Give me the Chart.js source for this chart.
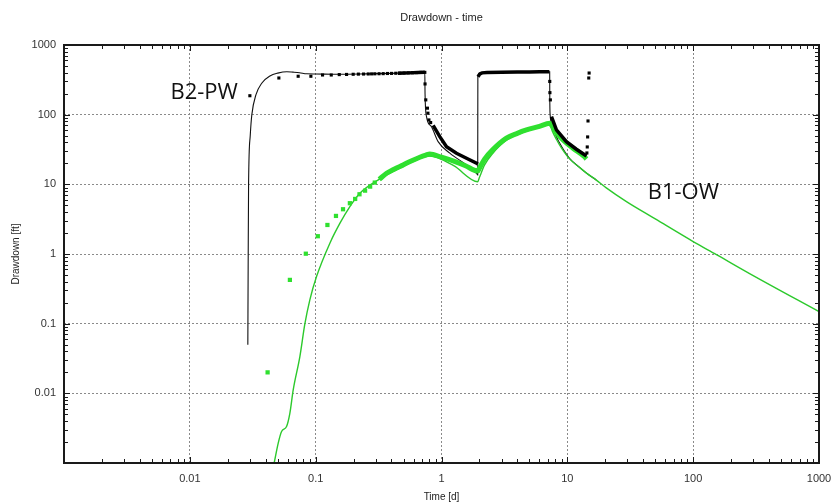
<!DOCTYPE html>
<html>
<head>
<meta charset="utf-8">
<title>Drawdown - time</title>
<script src="https://cdn.jsdelivr.net/npm/chart.js@4.4.1/dist/chart.umd.min.js"></script>
<style>
  html, body { margin: 0; padding: 0; background: #fff; }
</style>
</head>
<body>
<canvas id="drawdownChart" width="834" height="504"></canvas>
<script>
// Axis decades and their labels (the lowest one is left blank)
const decades = [0.001, 0.01, 0.1, 1, 10, 100, 1000];
const xTickLabels = ['', '0.01', '0.1', '1', '10', '100', '1000'];
const yTickLabels = ['', '0.01', '0.1', '1', '10', '100', '1000'];

// B2-PW (pumping well) - model curve
const pwModelTime = [0.0289, 0.0291, 0.0293, 0.0302, 0.0311, 0.0335, 0.0374, 0.0433, 0.050, 0.059, 0.066, 0.0744, 0.085, 0.1, 0.15, 0.25, 0.4, 0.6, 0.737,
  0.740, 0.76, 0.833, 0.94, 1.164, 1.58, 1.9, 1.94, 1.945, 2.0, 2.2, 3, 5, 7.24,
  7.25, 7.3, 7.6, 8.2, 9, 10.45, 12.5, 14.2, 17];
const pwModelDrawdown = [0.05, 1, 10, 50, 100, 192, 285, 359, 395, 414, 408, 400, 386, 384, 380, 385, 392, 402, 410,
  200, 94, 67, 41, 28, 19, 14.4, 13.6, 359, 392, 402, 408, 412, 414,
  200, 100, 70, 48, 35, 23.5, 17.5, 14.5, 11.5];

// B2-PW observed - individual readings
const pwObsTime = [0.030, 0.051, 0.0726, 0.0916, 0.1134, 0.133, 0.154, 0.176, 0.1987, 0.2185, 0.2403, 0.2617, 0.2785, 0.2953,
  0.319, 0.344, 0.372, 0.401, 0.433, 0.467, 0.504, 0.544, 0.587, 0.634, 0.684, 0.737,
  0.740, 0.75, 0.773, 0.78, 0.794, 0.82,
  7.25, 7.27, 7.33,
  14.3, 14.4, 14.5, 14.6, 14.8, 14.9];
const pwObsDrawdown = [187, 336, 356, 356, 371, 371, 376, 378, 380, 382, 383, 384, 385, 386,
  387, 388, 390, 391, 393, 394, 396, 398, 400, 402, 404, 405,
  276, 163, 124, 105, 84, 77,
  300, 207, 163,
  28.2, 34.4, 47.9, 81.2, 336, 396];

// B2-PW observed - continuous logger record
const pwLogTime = [0.45, 0.55, 0.65, 0.737, null, 0.858, 0.969, 1.096, 1.315, 1.58, 1.9, 1.94, null,
  1.95, 2.02, 2.1, 2.3, 3, 4, 5, 6, 7.2, null,
  7.48, 8.19, 9.83, 11.8, 14.2];
const pwLogDrawdown = [393, 398, 402, 405, null, 70, 48.3, 34.7, 27.9, 23.7, 20.1, 19.5, null,
  350, 385, 398, 402, 405, 408, 410, 412, 414, null,
  93.6, 60.3, 41, 31.9, 25.5];

// B1-OW (observation well) - model curve
const owModelTime = [0.0468, 0.0504, 0.0536, 0.0587, 0.0624, 0.0663, 0.0749, 0.082, 0.0899, 0.1016, 0.1297, 0.156, 0.187, 0.2245,
  0.324, 0.495, 0.672, 0.807, 1.25, 1.94, 2.0, 2.2, 2.56, 3.28, 4.73, 6.0, 7.24,
  7.6, 8.2, 9.0, 10.45, 12.5, 14.2, 17, 20.4, 29.5, 50, 100, 153, 300, 1000];
const owModelDrawdown = [0.001, 0.00193, 0.00283, 0.00334, 0.0052, 0.0112, 0.0337, 0.0984, 0.22, 0.474, 1.43, 2.77, 4.79, 7.45,
  12.0, 18.0, 23.5, 25.5, 18.5, 10.9, 12.5, 19, 28, 43, 58, 66, 73,
  58, 44, 33, 23, 17.5, 14.5, 11.5, 8.9, 5.65, 3.19, 1.51, 0.98, 0.49, 0.149];

// B1-OW observed - individual readings
const owObsTime = [0.0415, 0.0624, 0.0835, 0.104, 0.124, 0.145, 0.165, 0.187, 0.206, 0.223, 0.247, 0.271, 0.295];
const owObsDrawdown = [0.020, 0.425, 1.01, 1.8, 2.61, 3.52, 4.39, 5.36, 6.17, 7.2, 8.12, 9.27, 10.6];

// B1-OW observed - continuous logger record
const owLogTime = [0.32, 0.366, 0.42, 0.495, 0.58, 0.672, 0.75, 0.807, 1.0, 1.25, 1.55, 1.94, 2.0, 2.2, 2.56, 3.28, 4.0, 4.73, 6.0, 7.24,
  7.48, 8.2, 9.25, 11.1, 13.7, 14.2];
const owLogDrawdown = [11.8, 14.4, 16.5, 19.0, 21.8, 24.5, 26.3, 27.3, 24.5, 21.5, 18.5, 15.5, 17, 23, 31.5, 46, 54, 60.3, 68, 75,
  71, 55, 43.3, 33, 24.9, 23.1];

const toPoints = (ts, vs) => ts.map((t, i) => (t === null ? { x: null, y: null } : { x: t, y: vs[i] }));

const GREEN = '#2fe02f';
const GREEN_LINE = '#2cc92c';

// frame, inward minor ticks, title and well labels
const decorations = {
  id: 'decorations',
  afterDraw(chart) {
    const { ctx, chartArea: a, scales: { x, y } } = chart;
    ctx.save();
    ctx.strokeStyle = '#1a1a1a';
    ctx.lineWidth = 1;
    ctx.beginPath();
    decades.slice(0, -1).forEach(d => {
      for (let m = 2; m <= 9; m++) {
        const px = Math.round(x.getPixelForValue(d * m)) + 0.5;
        ctx.moveTo(px, a.bottom); ctx.lineTo(px, a.bottom - 4);
        ctx.moveTo(px, a.top); ctx.lineTo(px, a.top + 4);
        const py = Math.round(y.getPixelForValue(d * m)) + 0.5;
        ctx.moveTo(a.left, py); ctx.lineTo(a.left + 4, py);
        ctx.moveTo(a.right, py); ctx.lineTo(a.right - 4, py);
      }
    });
    decades.forEach(d => {
      const px = Math.round(x.getPixelForValue(d)) + 0.5;
      ctx.moveTo(px, a.bottom); ctx.lineTo(px, a.bottom - 6);
      ctx.moveTo(px, a.top); ctx.lineTo(px, a.top + 6);
      const py = Math.round(y.getPixelForValue(d)) + 0.5;
      ctx.moveTo(a.left, py); ctx.lineTo(a.left + 6, py);
      ctx.moveTo(a.right, py); ctx.lineTo(a.right - 6, py);
    });
    ctx.stroke();
    ctx.lineWidth = 2;
    ctx.strokeRect(a.left, a.top, a.right - a.left, a.bottom - a.top);

    ctx.fillStyle = '#222';
    ctx.font = '11px "Liberation Sans", Arial, sans-serif';
    ctx.textAlign = 'center';
    ctx.textBaseline = 'middle';
    ctx.fillText('Drawdown - time', (a.left + a.right) / 2, 18);

    ctx.fillStyle = '#111';
    ctx.font = '22px "Open Sans", sans-serif';
    ctx.textAlign = 'right';
    ctx.fillText('B2-PW', x.getPixelForValue(0.0241), y.getPixelForValue(205));
    ctx.textAlign = 'left';
    ctx.fillText('B1-OW', x.getPixelForValue(43.5), y.getPixelForValue(7.5));
    ctx.restore();
  }
};

const axisFont = { family: '"Liberation Sans", Arial, sans-serif', size: 11 };

new Chart(document.getElementById('drawdownChart'), {
  type: 'scatter',
  data: {
    datasets: [
      { label: 'B2-PW observed', data: toPoints(pwObsTime, pwObsDrawdown), showLine: false,
        pointStyle: 'rect', pointRadius: 2.2, pointBorderWidth: 0, backgroundColor: '#000' },
      { label: 'B2-PW record', data: toPoints(pwLogTime, pwLogDrawdown), showLine: true, spanGaps: false,
        borderColor: '#000', borderWidth: 3.5, pointRadius: 0, tension: 0 },
      { label: 'B1-OW observed', data: toPoints(owObsTime, owObsDrawdown), showLine: false,
        pointStyle: 'rect', pointRadius: 3, pointBorderWidth: 0, backgroundColor: GREEN },
      { label: 'B1-OW record', data: toPoints(owLogTime, owLogDrawdown), showLine: true,
        borderColor: GREEN, borderWidth: 5, pointRadius: 0, cubicInterpolationMode: 'monotone' },
      { label: 'B1-OW model', data: toPoints(owModelTime, owModelDrawdown), showLine: true,
        borderColor: GREEN_LINE, borderWidth: 1.4, pointRadius: 0, cubicInterpolationMode: 'monotone' },
      { label: 'B2-PW model', data: toPoints(pwModelTime, pwModelDrawdown), showLine: true,
        borderColor: '#111', borderWidth: 1.1, pointRadius: 0, cubicInterpolationMode: 'monotone' }
    ]
  },
  options: {
    responsive: false,
    animation: false,
    devicePixelRatio: 1,
    layout: { padding: { top: 45, right: 15, left: 0, bottom: 0 } },
    plugins: { legend: { display: false }, tooltip: { enabled: false } },
    scales: {
      x: {
        type: 'logarithmic', min: 0.001, max: 1000,
        afterFit: s => { s.height = 41; s.paddingLeft = 0; s.paddingRight = 0; },
        afterBuildTicks: s => { s.ticks = decades.map(v => ({ value: v })); },
        ticks: { autoSkip: false, maxRotation: 0, padding: 9, color: '#333', font: axisFont,
          callback: v => xTickLabels[decades.indexOf(v)] },
        grid: { color: '#8a8a8a', lineWidth: 1, drawTicks: false },
        border: { display: false, dash: [2, 2] },
        title: { display: true, text: 'Time [d]', color: '#222', font: { ...axisFont, size: 10 }, padding: { top: 0, bottom: 1 } }
      },
      y: {
        type: 'logarithmic', min: 0.001, max: 1000,
        afterFit: s => { s.width = 64; s.paddingTop = 0; s.paddingBottom = 0; },
        afterBuildTicks: s => { s.ticks = decades.map(v => ({ value: v })); },
        ticks: { autoSkip: false, padding: 8, color: '#333', font: axisFont,
          callback: v => yTickLabels[decades.indexOf(v)] },
        grid: { color: '#8a8a8a', lineWidth: 1, drawTicks: false },
        border: { display: false, dash: [2, 2] },
        title: { display: true, text: 'Drawdown [ft]', color: '#222', font: { ...axisFont, size: 10 }, padding: { top: 10, bottom: 0 } }
      }
    }
  },
  plugins: [decorations]
});
</script>
</body>
</html>
